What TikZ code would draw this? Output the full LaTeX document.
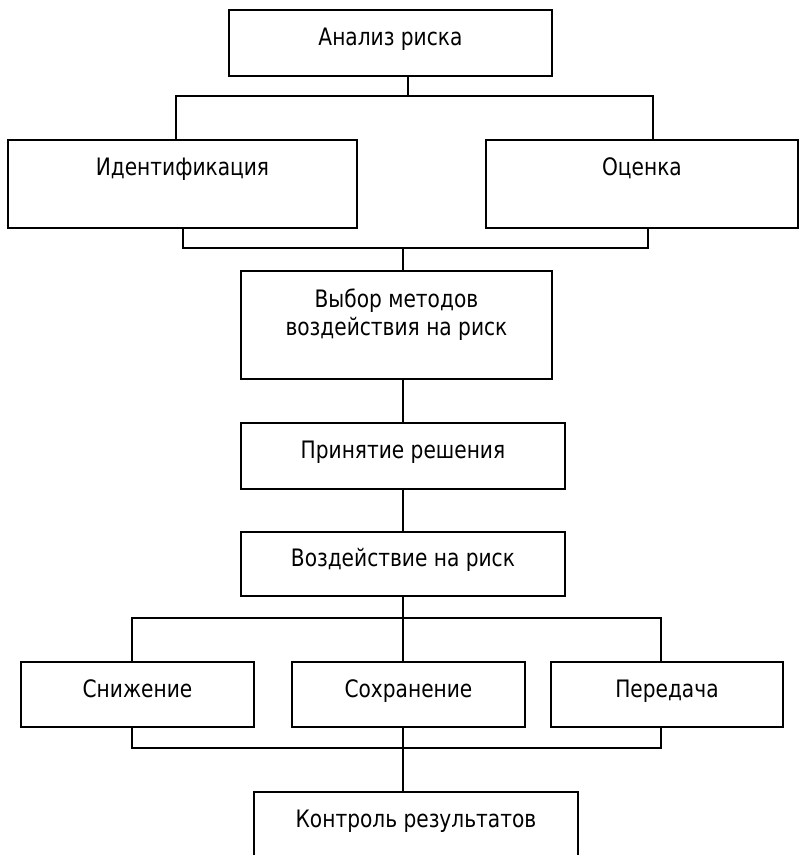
\documentclass[tikz,border=0pt]{standalone}
\usepackage{fontspec}
\setmainfont{DejaVu Sans}[FakeStretch=0.84]
\begin{document}
\begin{tikzpicture}[x=1pt,y=-1pt,
  box/.style={draw, line width=1.9pt, inner sep=0pt, anchor=north west,
    text height=36pt, font=\fontsize{24}{28}\selectfont},
  conn/.style={line width=1.8pt}]
\useasboundingbox (0,0) rectangle (803,855);
\fill[white] (0,0) rectangle (803,855);
\clip (0,0) rectangle (803,855);
% boxes
\node[box, minimum width=323pt, minimum height=66pt, text depth=30pt] (an) at (228,9) {Анализ риска};
\node[box, minimum width=349pt, minimum height=88pt, text depth=52pt] (id) at (7,139) {Идентификация};
\node[box, minimum width=312pt, minimum height=88pt, text depth=52pt] (oc) at (485,139) {Оценка};
\node[box, minimum width=311pt, minimum height=108pt, text height=37pt, text depth=71pt] (vm) at (240,270)
  {\begin{tabular}[t]{@{}c@{}}Выбор методов\\воздействия на риск\end{tabular}};
\node[box, minimum width=324pt, minimum height=66pt, text depth=30pt] (pr) at (240,422) {Принятие решения};
\node[box, minimum width=324pt, minimum height=64pt, text height=35pt, text depth=29pt] (vo) at (240,531) {Воздействие на риск};
\node[box, minimum width=233pt, minimum height=65pt, text depth=29pt] (sn) at (20,661) {Снижение};
\node[box, minimum width=233pt, minimum height=65pt, text depth=29pt] (so) at (291,661) {Сохранение};
\node[box, minimum width=232pt, minimum height=65pt, text depth=29pt] (pe) at (550,661) {Передача};
\node[box, minimum width=324pt, minimum height=75pt, text depth=39pt] (ko) at (253,791) {Контроль результатов};
% junctions
\coordinate (ta) at (408,96);
\coordinate (tl) at (176,96);
\coordinate (tr) at (653,96);
\coordinate (ml) at (183,248);
\coordinate (mr) at (648,248);
\coordinate (mc) at (403,248);
\coordinate (ll) at (132,618);
\coordinate (lr) at (661,618);
\coordinate (lc) at (403,618);
\coordinate (bl) at (132,748);
\coordinate (br) at (661,748);
\coordinate (bc) at (403,748);
% connectors
\draw[conn] (an.south -| ta) -- (ta);
\draw[conn] (id.north -| tl) -- (tl) -- (tr) -- (oc.north -| tr);
\draw[conn] (id.south -| ml) -- (ml) -- (mr) -- (oc.south -| mr);
\draw[conn] (mc) -- (vm.north -| mc);
\draw[conn] (vm.south -| mc) -- (pr.north -| mc);
\draw[conn] (pr.south -| mc) -- (vo.north -| mc);
\draw[conn] (vo.south -| lc) -- (lc);
\draw[conn] (sn.north -| ll) -- (ll) -- (lr) -- (pe.north -| lr);
\draw[conn] (lc) -- (so.north -| lc);
\draw[conn] (sn.south -| bl) -- (bl) -- (br) -- (pe.south -| br);
\draw[conn] (so.south -| bc) -- (ko.north -| bc);
\end{tikzpicture}
\end{document}
